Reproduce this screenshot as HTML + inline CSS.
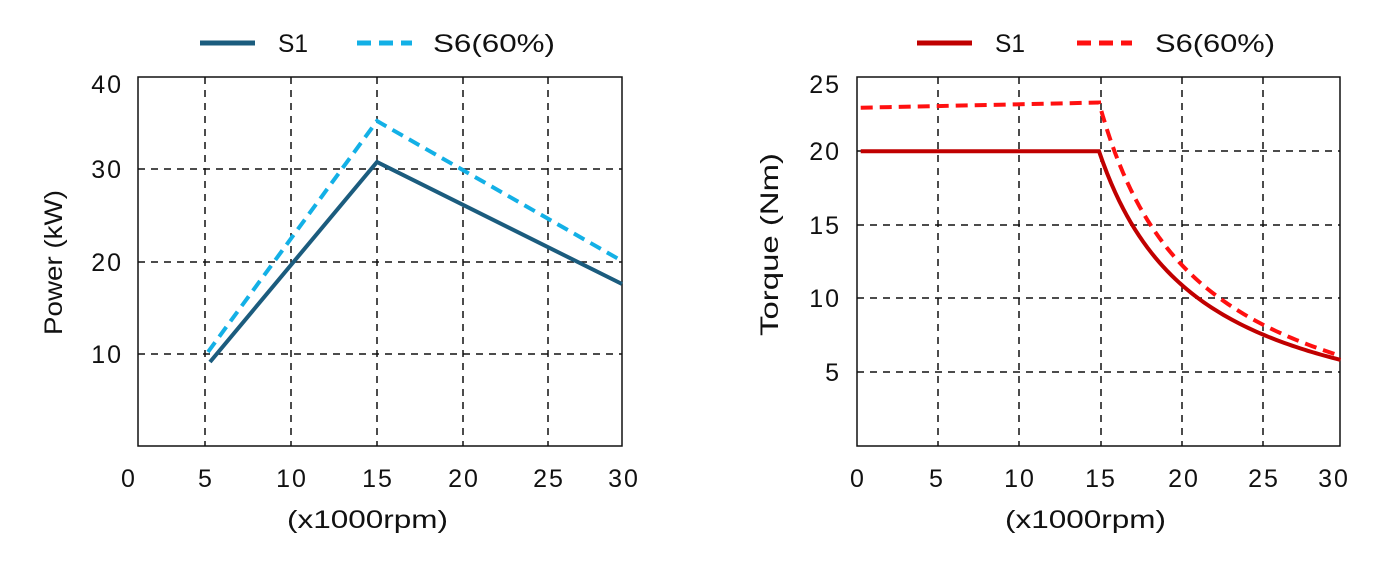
<!DOCTYPE html>
<html><head><meta charset="utf-8"><style>body{margin:0;background:#fff}svg{display:block}text{font-family:"Liberation Sans",sans-serif;font-size:25px;fill:#111}.t{letter-spacing:2px}</style></head>
<body>
<svg width="1395" height="567" viewBox="0 0 1395 567">
<!-- LEFT -->
<g stroke="#111" stroke-width="1.5" stroke-dasharray="7,6" fill="none">
<path d="M205 77V446M291 77V446M377 77V446M463 77V446M548 77V446"/>
<path d="M138 169H622M138 262H622M138 354H622"/>
</g>
<rect x="138" y="77" width="484" height="369" fill="none" stroke="#111" stroke-width="1.5"/>
<polyline points="210,362 377,162 622,284" fill="none" stroke="#1b5c7e" stroke-width="4"/>
<polyline points="208,352 377,121 622,261" fill="none" stroke="#13b0e6" stroke-width="4" stroke-dasharray="12,7"/>
<g text-anchor="end" class="t"><text x="123" y="93">40</text><text x="123" y="178">30</text><text x="123" y="271">20</text><text x="123" y="363">10</text></g>
<g text-anchor="middle" class="t"><text x="129" y="487">0</text><text x="206" y="487">5</text><text x="292" y="487">10</text><text x="378" y="487">15</text><text x="464" y="487">20</text><text x="549" y="487">25</text><text x="624" y="487">30</text></g>
<text x="287" y="528" textLength="161" lengthAdjust="spacingAndGlyphs">(x1000rpm)</text>
<text transform="translate(62,335) rotate(-90)" textLength="145" lengthAdjust="spacingAndGlyphs">Power (kW)</text>
<line x1="200" y1="43" x2="255" y2="43" stroke="#1b5c7e" stroke-width="5"/>
<text x="278" y="52" textLength="30" lengthAdjust="spacingAndGlyphs">S1</text>
<line x1="357" y1="43" x2="412" y2="43" stroke="#13b0e6" stroke-width="5" stroke-dasharray="14,8"/>
<text x="433" y="52" textLength="122" lengthAdjust="spacingAndGlyphs">S6(60%)</text>
<!-- RIGHT -->
<g stroke="#111" stroke-width="1.5" stroke-dasharray="7,6" fill="none">
<path d="M938 77V446M1019 77V446M1101 77V446M1182 77V446M1263 77V446"/>
<path d="M857 151H1340M857 225H1340M857 298H1340M857 372H1340"/>
</g>
<rect x="857" y="77" width="483" height="369" fill="none" stroke="#111" stroke-width="1.5"/>
<polyline id="s1" fill="none" stroke="#c00000" stroke-width="4" points=""/>
<polyline id="s6" fill="none" stroke="#ff1010" stroke-width="4" stroke-dasharray="12,7" points=""/>
<g text-anchor="end" class="t"><text x="841" y="93">25</text><text x="841" y="160">20</text><text x="841" y="234">15</text><text x="841" y="307">10</text><text x="841" y="381">5</text></g>
<g text-anchor="middle" class="t"><text x="858" y="487">0</text><text x="937" y="487">5</text><text x="1020" y="487">10</text><text x="1101" y="487">15</text><text x="1184" y="487">20</text><text x="1264" y="487">25</text><text x="1334" y="487">30</text></g>
<text x="1005" y="528" textLength="161" lengthAdjust="spacingAndGlyphs">(x1000rpm)</text>
<text transform="translate(778,336) rotate(-90)" textLength="183" lengthAdjust="spacingAndGlyphs">Torque  (Nm)</text>
<line x1="917" y1="43" x2="972" y2="43" stroke="#c00000" stroke-width="5"/>
<text x="995" y="52" textLength="30" lengthAdjust="spacingAndGlyphs">S1</text>
<line x1="1077" y1="43" x2="1132" y2="43" stroke="#ff1010" stroke-width="5" stroke-dasharray="14,8"/>
<text x="1155" y="52" textLength="120" lengthAdjust="spacingAndGlyphs">S6(60%)</text>
<script>
function X(n){return 857.5+n*16.1}function Y(v){return 446-v*14.74}
var a=[[X(0.2),Y(20)],[X(15),Y(20)]];for(var n=15;n<=30.01;n+=0.25)a.push([X(n),Y(123.8/(n-8.81))]);
document.getElementById('s1').setAttribute('points',a.map(p=>p.join(',')).join(' '));
var b=[[X(0.2),Y(22.95)],[X(15),Y(23.3)]];for(var n=15;n<=30.01;n+=0.25){var t=(n-15)/15;b.push([X(n),Y(137.2/(n-9.11)-0.45*t)]);}
document.getElementById('s6').setAttribute('points',b.map(p=>p.join(',')).join(' '));
</script>
</svg>
</body></html>
